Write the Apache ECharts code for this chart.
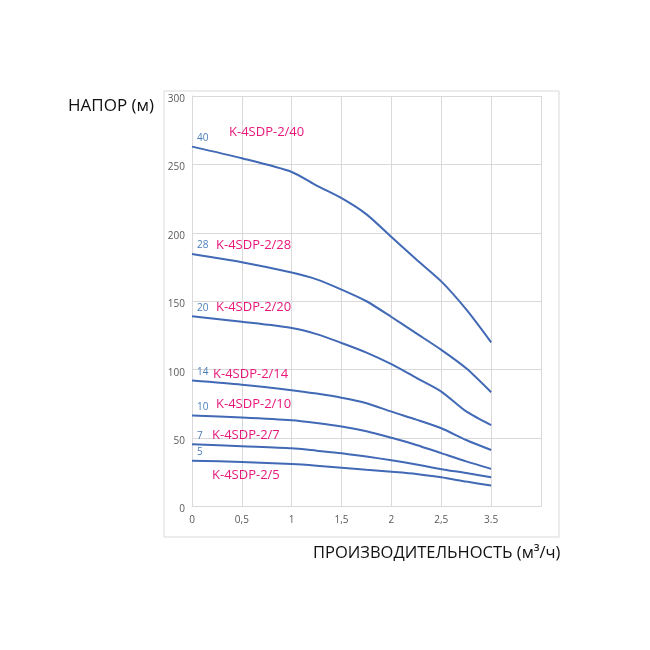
<!DOCTYPE html>
<html lang="ru">
<head>
    <meta charset="UTF-8">
    <title>K-4SDP-2</title>
    <script type="text/javascript" src="https://cdn.jsdelivr.net/npm/echarts@6/dist/echarts.min.js"></script>
    <style>
        html, body { margin: 0; padding: 0; background: #fff; }
        #main { width: 650px; height: 650px; }
    </style>
</head>
<body>
<div id="main"></div>
<script type="text/javascript">
    // подача (положение на оси), последняя точка стоит на метке "3.5"
    var flow = [0, 0.5, 1, 1.25, 1.5, 1.75, 2, 2.25, 2.5, 2.75, 3];
    var xTickLabels = ['0', '0,5', '1', '1,5', '2', '2,5', '3.5', ''];

    var stages = ['40', '28', '20', '14', '10', '7', '5'];
    var models = ['K-4SDP-2/40', 'K-4SDP-2/28', 'K-4SDP-2/20', 'K-4SDP-2/14', 'K-4SDP-2/10', 'K-4SDP-2/7', 'K-4SDP-2/5'];

    var head40 = [263, 254.5, 244.5, 234.5, 225.3, 213.5, 197, 180.5, 164.5, 144, 120];
    var head28 = [184.5, 178.5, 171, 166, 158.5, 150, 138.5, 126.5, 114.5, 101, 83.5];
    var head20 = [139, 135, 130.5, 126, 119.5, 112.5, 104, 94, 84, 69.5, 59.5];
    var head14 = [92, 89, 85, 82.5, 79.5, 75.5, 69.3, 63.5, 57.2, 48.6, 41.3];
    var head10 = [66.5, 65, 63, 61, 58.5, 55, 50.2, 45, 39, 33, 27.5];
    var head7 = [45.5, 44, 42.5, 40.8, 39, 36.5, 33.8, 30.7, 27.3, 24.5, 21.3];
    var head5 = [33.5, 32.5, 31, 29.8, 28.3, 26.8, 25.4, 23.8, 21.3, 18.2, 15.3];

    var heads = [head40, head28, head20, head14, head10, head7, head5];

    // смещение подписи модели от начала кривой (px)
    var nameOffsets = [[37, -14], [24, -8.5], [24, -9], [21, -6.5], [24, -11], [20, -9], [20, 14.5]];

    var font = '"Open Sans", "DejaVu Sans", sans-serif';

    function pairs(ys) {
        var out = [];
        for (var i = 0; i < flow.length; i++) {
            out.push([flow[i], ys[i]]);
        }
        return out;
    }

    var series = [];
    for (var k = 0; k < heads.length; k++) {
        var start = [flow[0], heads[k][0]];
        series.push({
            name: models[k],
            type: 'line',
            data: pairs(heads[k]),
            smooth: 0.25,
            showSymbol: false,
            lineStyle: { color: '#4169b5', width: 2 },
            markPoint: {
                symbol: 'circle',
                symbolSize: 1,
                itemStyle: { color: 'rgba(0,0,0,0)' },
                data: [
                    {
                        coord: start,
                        label: {
                            show: true,
                            position: 'inside',
                            formatter: stages[k],
                            align: 'left',
                            verticalAlign: 'middle',
                            offset: [5, -8.5],
                            color: '#4a7ebb',
                            fontSize: 10,
                            fontFamily: font
                        }
                    },
                    {
                        coord: start,
                        label: {
                            show: true,
                            position: 'inside',
                            formatter: models[k],
                            align: 'left',
                            verticalAlign: 'middle',
                            offset: nameOffsets[k],
                            color: '#e8177a',
                            fontSize: 13,
                            fontFamily: font
                        }
                    }
                ]
            }
        });
    }

    var myChart = echarts.init(document.getElementById('main'));
    var option = {
        animation: false,
        backgroundColor: '#ffffff',
        grid: { left: 192, right: 109, top: 96, bottom: 143.5 },
        xAxis: {
            type: 'value',
            min: 0,
            max: 3.5,
            interval: 0.5,
            axisLine: { show: true, lineStyle: { color: '#d9d9d9' } },
            axisTick: { show: false },
            splitLine: { show: true, lineStyle: { color: '#d9d9d9' } },
            axisLabel: {
                color: '#595959',
                fontSize: 10,
                fontFamily: font,
                margin: 9,
                formatter: function (v) {
                    return xTickLabels[Math.round(v / 0.5)];
                }
            }
        },
        yAxis: {
            type: 'value',
            min: 0,
            max: 300,
            interval: 50,
            axisLine: { show: true, lineStyle: { color: '#d9d9d9' } },
            axisTick: { show: false },
            splitLine: { show: true, lineStyle: { color: '#d9d9d9' } },
            axisLabel: {
                margin: 7,
                formatter: '{v|{value}}',
                rich: {
                    v: {
                        color: '#595959',
                        fontSize: 10,
                        fontFamily: font,
                        padding: [6, 0, 0, 0]
                    }
                }
            }
        },
        graphic: [
            {
                type: 'rect',
                shape: { x: 164, y: 91, width: 395, height: 446 },
                style: { fill: 'none', stroke: '#d9d9d9', lineWidth: 1 },
                z: -1
            },
            {
                type: 'text',
                x: 68,
                y: 106,
                style: {
                    text: 'НАПОР (м)',
                    fill: '#111',
                    fontSize: 17,
                    fontFamily: font,
                    verticalAlign: 'middle'
                }
            },
            {
                type: 'text',
                x: 313,
                y: 553,
                style: {
                    text: 'ПРОИЗВОДИТЕЛЬНОСТЬ (м³/ч)',
                    fill: '#111',
                    fontSize: 16.5,
                    fontFamily: font,
                    verticalAlign: 'middle'
                }
            }
        ],
        series: series
    };
    myChart.setOption(option);
</script>
</body>
</html>
